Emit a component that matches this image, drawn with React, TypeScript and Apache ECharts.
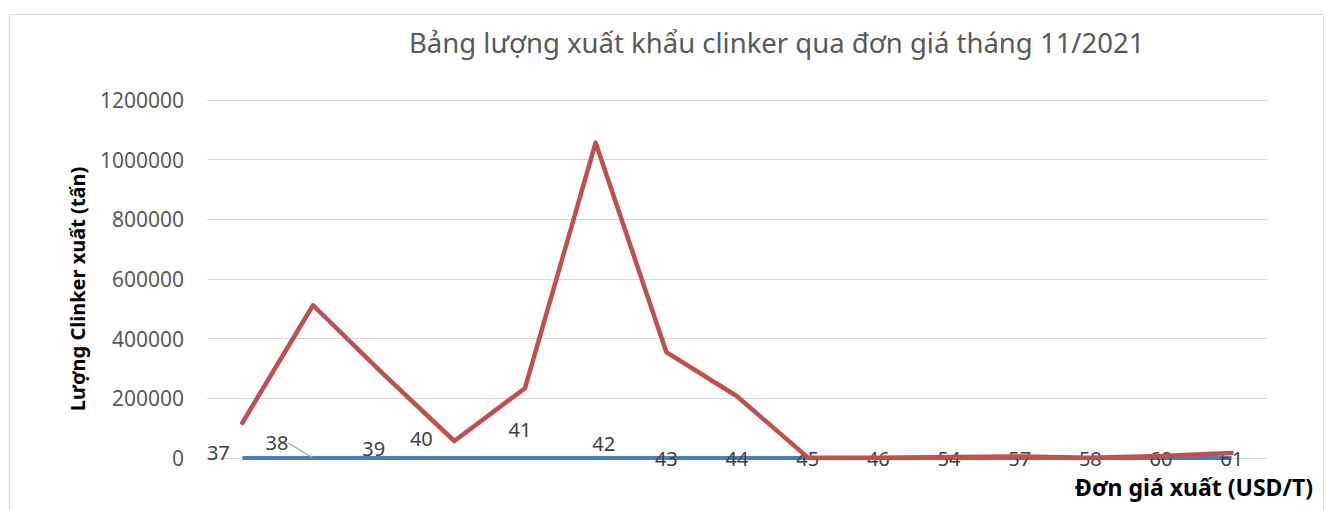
import React, { useEffect, useRef } from "react";
import * as echarts from "echarts";

const titleText = "Bảng lượng xuất khẩu clinker qua đơn giá tháng 11/2021";
const yAxisTitle = "Lượng Clinker xuất (tấn)";
const xAxisTitle = "Đơn giá xuất (USD/T)";
const prices = ["37", "38", "39", "40", "41", "42", "43", "44", "45", "46", "54", "57", "58", "60", "61"];
const priceValues = [37, 38, 39, 40, 41, 42, 43, 44, 45, 46, 54, 57, 58, 60, 61];
const quantities = [118000, 512000, 280000, 57000, 234000, 1057000, 355000, 207000, 2000, 1000, 3000, 5000, 1000, 7000, 17000];

// label displacement (px) for the price labels
const labelShift: [number, number][] = [
  [-24, -5], [-36, -15], [-10, -9], [-33, -19], [-5, -28], [8, -14],
  [0, 1], [0, 1], [0, 1], [0, 1], [0, 1], [0, 1], [0, 1], [0, 1], [0, 1],
];

const FONT = "'Noto Sans', 'Open Sans', sans-serif";

export default function App() {
  const ref = useRef<HTMLDivElement>(null);
  useEffect(() => {
    if (!ref.current) return;
    const chart = echarts.init(ref.current, undefined, { renderer: "svg" });
    chart.setOption({
      animation: false,
      backgroundColor: "#ffffff",
      textStyle: { fontFamily: FONT },
      title: {
        text: titleText,
        left: 409,
        top: 28,
        textStyle: { fontFamily: FONT, fontSize: 27.5, fontWeight: "normal", color: "#595959" },
        padding: 0,
      },
      graphic: [
        {
          type: "rect",
          left: 7,
          top: 12,
          shape: { width: 1314, height: 520 },
          style: { fill: "none", stroke: "#d9d9d9", lineWidth: 1 },
          silent: true,
          z: -1,
        },
        {
          type: "text",
          x: 77,
          y: 289,
          rotation: Math.PI / 2,
          style: {
            text: yAxisTitle,
            fontFamily: FONT,
            fontSize: 20,
            fontWeight: "bold",
            fill: "#000000",
            align: "center",
            verticalAlign: "middle",
          },
        },
        {
          type: "text",
          right: 17,
          top: 475,
          style: {
            text: xAxisTitle,
            fontFamily: FONT,
            fontSize: 23,
            fontWeight: "bold",
            fill: "#000000",
          },
        },
      ],
      grid: { left: 207, right: 63, top: 100, bottom: 52, containLabel: false },
      xAxis: {
        type: "category",
        data: prices,
        boundaryGap: true,
        axisLine: { show: true, lineStyle: { color: "#d9d9d9", width: 1 } },
        axisTick: { show: false },
        axisLabel: { show: false },
      },
      yAxis: {
        type: "value",
        min: 0,
        max: 1200000,
        interval: 200000,
        axisLine: { show: false },
        axisTick: { show: false },
        splitLine: { lineStyle: { color: "#d9d9d9", width: 1 } },
        axisLabel: {
          fontFamily: FONT,
          fontSize: 21,
          color: "#595959",
          margin: 23,
          formatter: (v: number) => String(v),
        },
      },
      series: [
        {
          name: "Đơn giá",
          type: "line",
          data: priceValues.map((v, i) =>
            i === 1
              ? { value: v, labelLine: { show: true, lineStyle: { color: "#a6a6a6", width: 1.3 } } }
              : v
          ),
          showSymbol: true,
          symbol: "circle",
          symbolSize: 1,
          itemStyle: { color: "rgba(74,126,187,0)" },
          lineStyle: { color: "#4a7ebb", width: 4 },
          z: 2,
          label: {
            show: true,
            position: "inside",
            fontFamily: FONT,
            fontSize: 20,
            color: "#404040",
            formatter: (p: any) => String(p.value),
          },
          labelLine: { show: false },
          labelLayout: (params: any) => {
            const s = labelShift[params.dataIndex] || [0, 0];
            return { dx: s[0], dy: s[1] };
          },
        },
        {
          name: "Lượng",
          type: "line",
          data: quantities,
          showSymbol: false,
          symbol: "none",
          lineStyle: { color: "#c0504d", width: 4.5, cap: "round", join: "round" },
          itemStyle: { color: "#c0504d" },
          z: 3,
        },
      ],
    });
    return () => chart.dispose();
  }, []);
  return (
    <div
      ref={ref}
      style={{ position: "fixed", left: 0, top: 0, width: 1330, height: 510 }}
    />
  );
}
